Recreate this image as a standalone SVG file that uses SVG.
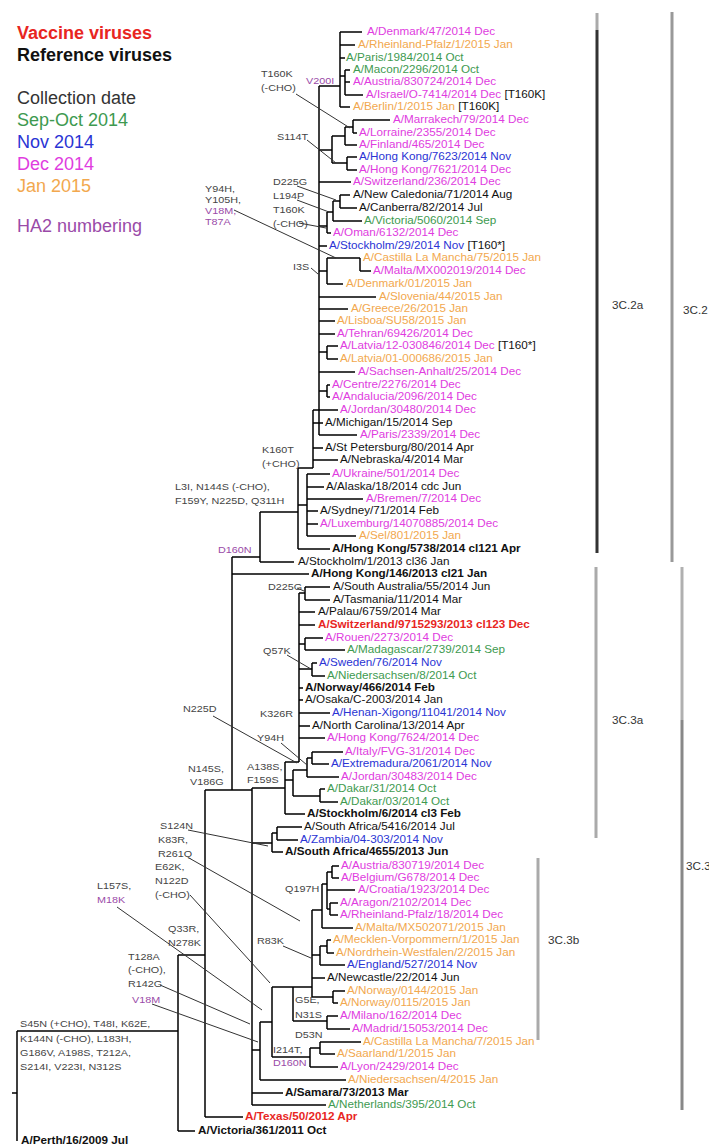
<svg xmlns="http://www.w3.org/2000/svg" width="709" height="1147" viewBox="0 0 709 1147">
<style>
.t{font-family:"Liberation Sans",Arial,sans-serif;font-size:10px;transform-box:fill-box;transform-origin:0 0;transform:scaleX(1.17)}
.m{font-family:"Liberation Sans",Arial,sans-serif;font-size:9px;fill:#444;transform-box:fill-box;transform-origin:0 0;transform:scaleX(1.2)}
.lg{font-family:"Liberation Sans",Arial,sans-serif;font-size:18px}
.b{font-weight:bold}
.dec{fill:#e03ce0}.jan{fill:#f2a84e}.oct{fill:#3e9a50}.nov{fill:#2a34d4}.blk{fill:#111}.red{fill:#e8261f}.pur{fill:#9a4aa8}.gry{fill:#333}
.br{fill:none;stroke:#000;stroke-width:1.5}
.ld{fill:none;stroke:#333;stroke-width:1}
.bk{fill:none;stroke-width:3}
</style>
<g id="legend">
<text class="lg b red" x="17" y="39">Vaccine viruses</text>
<text class="lg b blk" x="17" y="61">Reference viruses</text>
<text class="lg gry" x="17" y="104">Collection date</text>
<text class="lg oct" x="17" y="126">Sep-Oct 2014</text>
<text class="lg nov" x="17" y="148">Nov 2014</text>
<text class="lg dec" x="17" y="170">Dec 2014</text>
<text class="lg jan" x="17" y="192">Jan 2015</text>
<text class="lg pur" x="17" y="232">HA2 numbering</text>
</g>
<g id="connectors">
<path class="br" d="M340 32V107M340 32H362M340 45H355M340 58H345M345 70V95M340 76H345M345 70H350M345 82H350M345 95H363M340 107H350M319 86H340M319 86V435M353 120V133M353 120H390M353 133H357M345 127V145M345 127H353M345 145H357M347 157V170M347 157H357M347 170H357M332 136V163M332 136H345M332 163H347M319 150H332M319 182H351M340 195V208M340 195H350M340 208H357M333 201V221M333 201H340M333 221H362M327 212V233M327 212H333M327 233H331M319 226H327M319 246H327M360 258V271M360 271H371M327 258V284M327 258H360M327 284H343M319 271H327M319 297H376M319 309H348M319 321H335M319 334H335M327 346V359M327 346H338M327 359H338M319 352H327M319 372H355M327 385V397M327 385H330M327 397H330M319 391H327M313 410V468M313 410H338M313 423H323M319 435H357M313 448H323M313 460H338M298 468H313M298 468V549M307 474V536M307 474H330M307 487H324M307 499H363M307 511H318M307 524H318M307 536H356M298 505H307M298 549H330M260 512H298M260 512V562M260 562H294M232 557H260M232 557V790M232 574H309M205 790H252M205 790V1117M205 1117H243M252 788V1105M178 955H205M178 955V1131M178 1131H195M17 1031H178M17 1031V1141M12 1093H17"/>
<path class="br" d="M285 762V814M252 788H285M285 762H299M299 593V762M305 587V600M299 593H305M305 587H330M305 600H330M299 612H315M299 625H315M305 638V650M299 644H305M305 638H323M305 650H345M312 663V676M299 669H312M312 663H317M312 676H325M299 688H303M299 700H303M299 713H330M299 726H310M299 738H325M293 770V796M285 780H293M307 758V777M293 770H307M312 752V764M307 758H312M312 752H343M312 764H329M307 777H339M320 789V802M293 796H320M320 789H325M320 802H338M285 814H305M277 827V840M272 833H277M277 827H302M277 840H298M272 833V852M272 852H283M252 843H272"/>
<path class="br" d="M332 866V878M332 866H339M332 878H339M327 872H332M327 872V909M327 890H355M330 903V915M327 909H330M330 903H338M330 915H338M322 884V928M322 884H327M322 928H353M312 910H322M327 940V953M327 940H331M327 953H334M320 946H327M320 946V965M320 965H345M312 955H320M312 910V997M312 978H325M333 991V1003M312 997H333M333 991H345M333 1003H338M272 987H312M293 987V1021M293 1021H327M327 1016V1029M327 1016H338M327 1029H350M320 1042V1054M320 1042H361M320 1054H335M310 1048H320M310 1048V1067M310 1067H338M272 1057H310M272 987V1057M260 1022H272M260 1022V1080M260 1080H346M252 1050H260M252 1093H283M252 1105H326"/>
<path class="ld" d="M296 94L350 128M307 140L336 163M297 186L336 200M297 200L329 212M299 223L326 228M234 210L336 258M311 268L318 274M297 588L304 591M287 655L311 669M213 716L297 763M281 743L307 765M188 830L268 846M189 858L300 921M190 895L270 983M117 907L262 1010M160 985L250 1024M152 1004L258 1042M283 946L311 958"/>
</g>
<g id="mutations">
<text class="m" x="261" y="77">T160K</text><text class="m" x="261" y="91">(-CHO)</text>
<text class="m pur" x="306" y="84">V200I</text>
<text class="m" x="277" y="140">S114T</text>
<text class="m" x="273" y="185">D225G</text>
<text class="m" x="273" y="199">L194P</text>
<text class="m" x="273" y="213">T160K</text><text class="m" x="273" y="227">(-CHO)</text>
<text class="m" x="205" y="192">Y94H,</text><text class="m" x="205" y="203">Y105H,</text>
<text class="m pur" x="205" y="214">V18M,</text><text class="m pur" x="205" y="225">T87A</text>
<text class="m" x="293" y="270">I3S</text>
<text class="m" x="262" y="453">K160T</text><text class="m" x="262" y="467">(+CHO)</text>
<text class="m" x="175" y="490">L3I, N144S (-CHO),</text><text class="m" x="175" y="504">F159Y, N225D, Q311H</text>
<text class="m pur" x="218" y="553">D160N</text>
<text class="m" x="268" y="590">D225G</text>
<text class="m" x="263" y="654">Q57K</text>
<text class="m" x="183" y="712">N225D</text>
<text class="m" x="260" y="717">K326R</text>
<text class="m" x="257" y="741">Y94H</text>
<text class="m" x="247" y="770">A138S,</text><text class="m" x="247" y="783">F159S</text>
<text class="m" x="188" y="772">N145S,</text><text class="m" x="190" y="785">V186G</text>
<text class="m" x="160" y="829">S124N</text>
<text class="m" x="158" y="843">K83R,</text><text class="m" x="158" y="857">R261Q</text>
<text class="m" x="155" y="870">E62K,</text><text class="m" x="155" y="884">N122D</text><text class="m" x="155" y="898">(-CHO)</text>
<text class="m" x="97" y="889">L157S,</text><text class="m pur" x="97" y="903">M18K</text>
<text class="m" x="168" y="932">Q33R,</text><text class="m" x="168" y="946">N278K</text>
<text class="m" x="128" y="960">T128A</text><text class="m" x="128" y="973">(-CHO),</text><text class="m" x="128" y="987">R142G</text>
<text class="m pur" x="132" y="1003">V18M</text>
<text class="m" x="20" y="1027">S45N (+CHO), T48I, K62E,</text>
<text class="m" x="20" y="1042">K144N (-CHO), L183H,</text>
<text class="m" x="20" y="1056">G186V, A198S, T212A,</text>
<text class="m" x="20" y="1070">S214I, V223I, N312S</text>
<text class="m" x="285" y="892">Q197H</text>
<text class="m" x="257" y="944">R83K</text>
<text class="m" x="295" y="1003">G5E,</text><text class="m" x="295" y="1018">N31S</text>
<text class="m" x="295" y="1038">D53N</text>
<text class="m" x="273" y="1053">I214T,</text><text class="m pur" x="273" y="1066">D160N</text>
</g>
<g id="clades">
<path class="bk" stroke="#aaa" d="M597 13V30"/>
<path class="bk" stroke="#333" d="M597 30V553"/>
<path class="bk" stroke="#999" d="M672 12V562"/>
<path class="bk" stroke="#aaa" d="M596 567V838"/>
<path class="bk" stroke="#aaa" d="M538 858V1040"/>
<path class="bk" stroke="#b0b0b0" d="M682 567V720"/>
<path class="bk" stroke="#888" d="M682 720V1110"/>
<text class="t gry" x="612" y="309">3C.2a</text>
<text class="t gry" x="683" y="314">3C.2</text>
<text class="t gry" x="612" y="724">3C.3a</text>
<text class="t gry" x="548" y="944">3C.3b</text>
<text class="t gry" x="686" y="870">3C.3</text>
</g>
<g id="n1"><text class="t dec" x="367" y="35.5">A/Denmark/47/2014 Dec</text></g>
<g id="n2"><text class="t jan" x="358" y="48.5">A/Rheinland-Pfalz/1/2015 Jan</text></g>
<g id="n3"><text class="t oct" x="346" y="61.5">A/Paris/1984/2014 Oct</text></g>
<g id="n4"><text class="t oct" x="353" y="73.5">A/Macon/2296/2014 Oct</text></g>
<g id="n5"><text class="t dec" x="353" y="85.5">A/Austria/830724/2014 Dec</text></g>
<g id="n6"><text class="t dec" x="366" y="98.5">A/Israel/O-7414/2014 Dec <tspan class="blk">[T160K]</tspan></text></g>
<g id="n7"><text class="t jan" x="353" y="110.5">A/Berlin/1/2015 Jan <tspan class="blk">[T160K]</tspan></text></g>
<g id="n8"><text class="t dec" x="393" y="123.5">A/Marrakech/79/2014 Dec</text></g>
<g id="n9"><text class="t dec" x="359" y="136.5">A/Lorraine/2355/2014 Dec</text></g>
<g id="n10"><text class="t dec" x="359" y="148.5">A/Finland/465/2014 Dec</text></g>
<g id="n11"><text class="t nov" x="359" y="160.5">A/Hong Kong/7623/2014 Nov</text></g>
<g id="n12"><text class="t dec" x="359" y="173.5">A/Hong Kong/7621/2014 Dec</text></g>
<g id="n13"><text class="t dec" x="353" y="185.5">A/Switzerland/236/2014 Dec</text></g>
<g id="n14"><text class="t blk" x="353" y="198.5">A/New Caledonia/71/2014 Aug</text></g>
<g id="n15"><text class="t blk" x="359" y="211.5">A/Canberra/82/2014 Jul</text></g>
<g id="n16"><text class="t oct" x="364" y="224.5">A/Victoria/5060/2014 Sep</text></g>
<g id="n17"><text class="t dec" x="333" y="236.5">A/Oman/6132/2014 Dec</text></g>
<g id="n18"><text class="t nov" x="329" y="249.5">A/Stockholm/29/2014 Nov <tspan class="blk">[T160*]</tspan></text></g>
<g id="n19"><text class="t jan" x="363" y="261.5">A/Castilla La Mancha/75/2015 Jan</text></g>
<g id="n20"><text class="t dec" x="373" y="274.5">A/Malta/MX002019/2014 Dec</text></g>
<g id="n21"><text class="t jan" x="346" y="287.5">A/Denmark/01/2015 Jan</text></g>
<g id="n22"><text class="t jan" x="379" y="300.5">A/Slovenia/44/2015 Jan</text></g>
<g id="n23"><text class="t jan" x="351" y="312.5">A/Greece/26/2015 Jan</text></g>
<g id="n24"><text class="t jan" x="337" y="324.5">A/Lisboa/SU58/2015 Jan</text></g>
<g id="n25"><text class="t dec" x="337" y="337.5">A/Tehran/69426/2014 Dec</text></g>
<g id="n26"><text class="t dec" x="340" y="349.5">A/Latvia/12-030846/2014 Dec <tspan class="blk">[T160*]</tspan></text></g>
<g id="n27"><text class="t jan" x="340" y="362.5">A/Latvia/01-000686/2015 Jan</text></g>
<g id="n28"><text class="t dec" x="358" y="375.5">A/Sachsen-Anhalt/25/2014 Dec</text></g>
<g id="n29"><text class="t dec" x="332" y="388.5">A/Centre/2276/2014 Dec</text></g>
<g id="n30"><text class="t dec" x="332" y="400.5">A/Andalucia/2096/2014 Dec</text></g>
<g id="n31"><text class="t dec" x="340" y="413.5">A/Jordan/30480/2014 Dec</text></g>
<g id="n32"><text class="t blk" x="325" y="426.5">A/Michigan/15/2014 Sep</text></g>
<g id="n33"><text class="t dec" x="360" y="438.5">A/Paris/2339/2014 Dec</text></g>
<g id="n34"><text class="t blk" x="325" y="451.5">A/St Petersburg/80/2014 Apr</text></g>
<g id="n35"><text class="t blk" x="340" y="463.5">A/Nebraska/4/2014 Mar</text></g>
<g id="n36"><text class="t dec" x="332" y="477.5">A/Ukraine/501/2014 Dec</text></g>
<g id="n37"><text class="t blk" x="326" y="490.5">A/Alaska/18/2014 cdc Jun</text></g>
<g id="n38"><text class="t dec" x="366" y="502.5">A/Bremen/7/2014 Dec</text></g>
<g id="n39"><text class="t blk" x="320" y="514.5">A/Sydney/71/2014 Feb</text></g>
<g id="n40"><text class="t dec" x="320" y="527.5">A/Luxemburg/14070885/2014 Dec</text></g>
<g id="n41"><text class="t jan" x="359" y="539.5">A/Sel/801/2015 Jan</text></g>
<g id="n42"><text class="t b blk" x="332" y="552.5">A/Hong Kong/5738/2014 cl121 Apr</text></g>
<g id="n43"><text class="t blk" x="298" y="565.5">A/Stockholm/1/2013 cl36 Jan</text></g>
<g id="n44"><text class="t b blk" x="311" y="577.5">A/Hong Kong/146/2013 cl21 Jan</text></g>
<g id="n45"><text class="t blk" x="333" y="590.5">A/South Australia/55/2014 Jun</text></g>
<g id="n46"><text class="t blk" x="333" y="603.5">A/Tasmania/11/2014 Mar</text></g>
<g id="n47"><text class="t blk" x="318" y="615.5">A/Palau/6759/2014 Mar</text></g>
<g id="n48"><text class="t b red" x="318" y="628.5">A/Switzerland/9715293/2013 cl123 Dec</text></g>
<g id="n49"><text class="t dec" x="325" y="641.5">A/Rouen/2273/2014 Dec</text></g>
<g id="n50"><text class="t oct" x="347" y="653.5">A/Madagascar/2739/2014 Sep</text></g>
<g id="n51"><text class="t nov" x="319" y="666.5">A/Sweden/76/2014 Nov</text></g>
<g id="n52"><text class="t oct" x="327" y="679.5">A/Niedersachsen/8/2014 Oct</text></g>
<g id="n53"><text class="t b blk" x="305" y="691.5">A/Norway/466/2014 Feb</text></g>
<g id="n54"><text class="t blk" x="305" y="703.5">A/Osaka/C-2003/2014 Jan</text></g>
<g id="n55"><text class="t nov" x="332" y="716.5">A/Henan-Xigong/11041/2014 Nov</text></g>
<g id="n56"><text class="t blk" x="312" y="729.5">A/North Carolina/13/2014 Apr</text></g>
<g id="n57"><text class="t dec" x="327" y="741.5">A/Hong Kong/7624/2014 Dec</text></g>
<g id="n58"><text class="t dec" x="345" y="755.5">A/Italy/FVG-31/2014 Dec</text></g>
<g id="n59"><text class="t nov" x="331" y="767.5">A/Extremadura/2061/2014 Nov</text></g>
<g id="n60"><text class="t dec" x="341" y="780.5">A/Jordan/30483/2014 Dec</text></g>
<g id="n61"><text class="t oct" x="327" y="792.5">A/Dakar/31/2014 Oct</text></g>
<g id="n62"><text class="t oct" x="340" y="805.5">A/Dakar/03/2014 Oct</text></g>
<g id="n63"><text class="t b blk" x="307" y="817.5">A/Stockholm/6/2014 cl3 Feb</text></g>
<g id="n64"><text class="t blk" x="304" y="830.5">A/South Africa/5416/2014 Jul</text></g>
<g id="n65"><text class="t nov" x="300" y="843.5">A/Zambia/04-303/2014 Nov</text></g>
<g id="n66"><text class="t b blk" x="285" y="855.5">A/South Africa/4655/2013 Jun</text></g>
<g id="n67"><text class="t dec" x="341" y="869.5">A/Austria/830719/2014 Dec</text></g>
<g id="n68"><text class="t dec" x="341" y="881.5">A/Belgium/G678/2014 Dec</text></g>
<g id="n69"><text class="t dec" x="358" y="893.5">A/Croatia/1923/2014 Dec</text></g>
<g id="n70"><text class="t dec" x="340" y="906.5">A/Aragon/2102/2014 Dec</text></g>
<g id="n71"><text class="t dec" x="340" y="918.5">A/Rheinland-Pfalz/18/2014 Dec</text></g>
<g id="n72"><text class="t jan" x="355" y="931.5">A/Malta/MX502071/2015 Jan</text></g>
<g id="n73"><text class="t jan" x="333" y="943.5">A/Mecklen-Vorpommern/1/2015 Jan</text></g>
<g id="n74"><text class="t jan" x="336" y="956.5">A/Nordrhein-Westfalen/2/2015 Jan</text></g>
<g id="n75"><text class="t nov" x="347" y="968.5">A/England/527/2014 Nov</text></g>
<g id="n76"><text class="t blk" x="327" y="981.5">A/Newcastle/22/2014 Jun</text></g>
<g id="n77"><text class="t jan" x="347" y="994.5">A/Norway/0144/2015 Jan</text></g>
<g id="n78"><text class="t jan" x="340" y="1006.5">A/Norway/0115/2015 Jan</text></g>
<g id="n79"><text class="t dec" x="340" y="1019.5">A/Milano/162/2014 Dec</text></g>
<g id="n80"><text class="t dec" x="352" y="1032.5">A/Madrid/15053/2014 Dec</text></g>
<g id="n81"><text class="t jan" x="363" y="1045.5">A/Castilla La Mancha/7/2015 Jan</text></g>
<g id="n82"><text class="t jan" x="337" y="1057.5">A/Saarland/1/2015 Jan</text></g>
<g id="n83"><text class="t dec" x="340" y="1070.5">A/Lyon/2429/2014 Dec</text></g>
<g id="n84"><text class="t jan" x="348" y="1083.5">A/Niedersachsen/4/2015 Jan</text></g>
<g id="n85"><text class="t b blk" x="285" y="1096.5">A/Samara/73/2013 Mar</text></g>
<g id="n86"><text class="t oct" x="328" y="1108.5">A/Netherlands/395/2014 Oct</text></g>
<g id="n87"><text class="t b red" x="245" y="1120.5">A/Texas/50/2012 Apr</text></g>
<g id="n88"><text class="t b blk" x="198" y="1134.5">A/Victoria/361/2011 Oct</text></g>
<g id="n89"><text class="t b blk" x="21" y="1144.5">A/Perth/16/2009 Jul</text></g>
</svg>
